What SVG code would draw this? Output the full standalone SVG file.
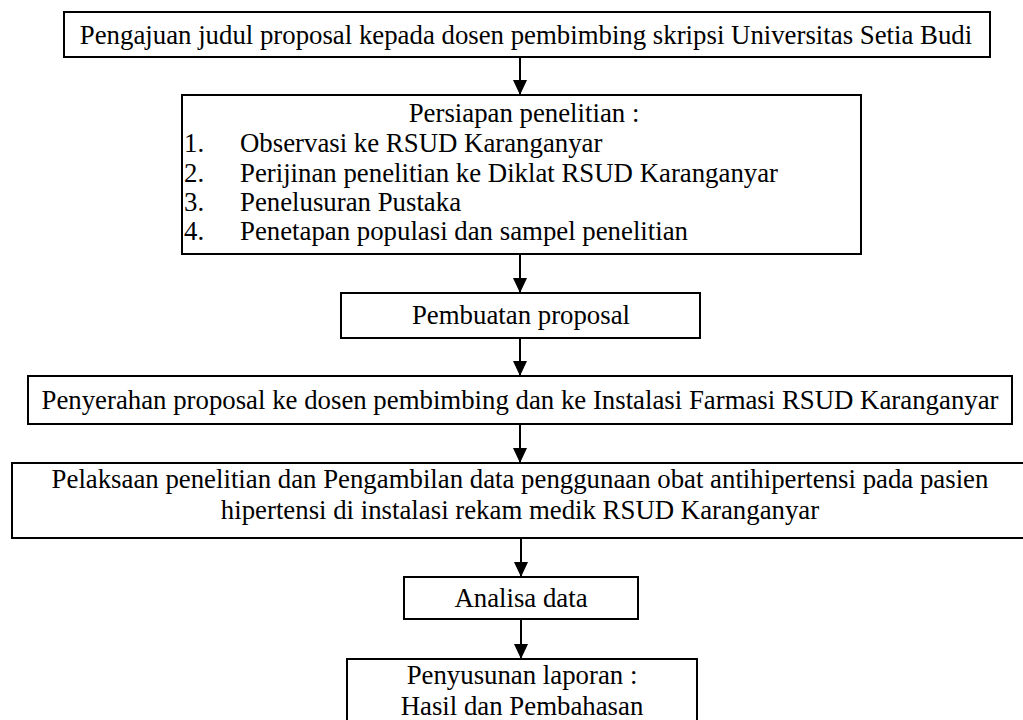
<svg xmlns="http://www.w3.org/2000/svg" width="1023" height="720" viewBox="0 0 1023 720">
<style>
.box{fill:#fff;stroke:#000;stroke-width:2}
.t{font-family:"Liberation Serif","Times New Roman",serif;font-size:26.8px;fill:#000}
.c{text-anchor:middle}
.ln{stroke:#000;stroke-width:2;fill:none}
</style>
<defs>
<marker id="ah" markerUnits="userSpaceOnUse" markerWidth="16" markerHeight="18" refX="15" refY="7" orient="auto">
<path d="M0,0 L15,7 L0,14 Z" fill="#000"/>
</marker>
</defs>
<rect width="1023" height="720" fill="#fff"/>
<g id="n1">
<rect class="box" x="64" y="12" width="926" height="45"/>
<text class="t c" x="526" y="44">Pengajuan judul proposal kepada dosen pembimbing skripsi Universitas Setia Budi</text>
</g>
<g id="n2">
<rect class="box" x="182" y="95" width="679" height="159"/>
<text class="t c" x="524" y="122">Persiapan penelitian :</text>
<text class="t" x="184" y="152">1.</text>
<text class="t" x="240" y="152">Observasi ke RSUD Karanganyar</text>
<text class="t" x="184" y="182">2.</text>
<text class="t" x="240" y="182">Perijinan penelitian ke Diklat RSUD Karanganyar</text>
<text class="t" x="184" y="211">3.</text>
<text class="t" x="240" y="211">Penelusuran Pustaka</text>
<text class="t" x="184" y="240">4.</text>
<text class="t" x="240" y="240">Penetapan populasi dan sampel penelitian</text>
</g>
<g id="n3">
<rect class="box" x="341" y="293" width="359" height="45"/>
<text class="t c" x="521" y="324">Pembuatan proposal</text>
</g>
<g id="n4">
<rect class="box" x="28" y="376" width="984" height="48"/>
<text class="t c" x="520" y="409">Penyerahan proposal ke dosen pembimbing dan ke Instalasi Farmasi RSUD Karanganyar</text>
</g>
<g id="n5">
<rect class="box" x="12" y="463" width="1014" height="75"/>
<text class="t c" x="520" y="488">Pelaksaan penelitian dan Pengambilan data penggunaan obat antihipertensi pada pasien</text>
<text class="t c" x="520" y="519">hipertensi di instalasi rekam medik RSUD Karanganyar</text>
</g>
<g id="n6">
<rect class="box" x="404" y="577" width="234" height="42"/>
<text class="t c" x="521" y="607">Analisa data</text>
</g>
<g id="n7">
<rect class="box" x="347" y="659" width="350" height="80"/>
<text class="t c" x="522" y="684">Penyusunan laporan :</text>
<text class="t c" x="522" y="715">Hasil dan Pembahasan</text>
</g>
<g id="edges">
<line class="ln" x1="520" y1="57" x2="520" y2="95" marker-end="url(#ah)"/>
<line class="ln" x1="520" y1="254" x2="520" y2="293" marker-end="url(#ah)"/>
<line class="ln" x1="520" y1="338" x2="520" y2="376" marker-end="url(#ah)"/>
<line class="ln" x1="520" y1="424" x2="520" y2="463" marker-end="url(#ah)"/>
<line class="ln" x1="521" y1="538" x2="521" y2="577" marker-end="url(#ah)"/>
<line class="ln" x1="521" y1="619" x2="521" y2="659" marker-end="url(#ah)"/>
</g>
</svg>
